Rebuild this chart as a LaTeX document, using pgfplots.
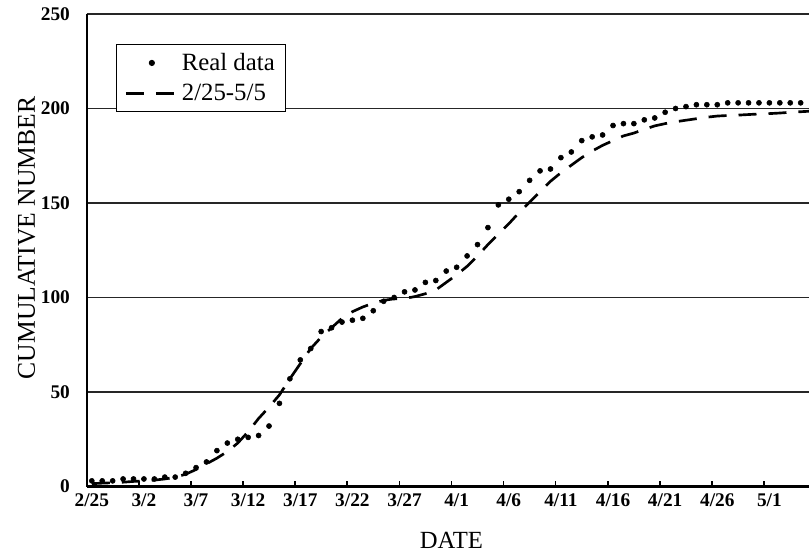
\documentclass[border=0pt]{standalone}
\usepackage{pgfplots}
\pgfplotsset{compat=1.18}
\usepackage{pgfplotstable}
\usepackage{fontspec}
\setmainfont{Liberation Serif}

\pgfplotsset{
  dotlegend/.style={legend image code/.code={\draw[##1, mark repeat=2, mark phase=2] plot coordinates {(0pt,0pt) (19.5pt,0pt) (39pt,0pt)};}},
  linelegend/.style={legend image code/.code={\draw[##1] (0pt,0pt) -- (39pt,0pt);}},
}

\pgfplotstableread{
i v
0 3
1 3
2 3
3 4
4 4
5 4
6 4
7 5
8 5
9 7
10 10
11 13
12 19
13 23
14 25
15 26
16 27
17 32
18 44
19 57
20 67
21 73
22 82
23 84
24 87
25 88
26 89
27 93
28 98
29 100
30 103
31 104
32 108
33 109
34 114
35 116
36 122
37 128
38 137
39 149
40 152
41 156
42 162
43 167
44 168
45 174
46 177
47 183
48 185
49 186
50 191
51 192
52 192
53 194
54 195
55 198
56 200
57 201
58 202
59 202
60 202
61 203
62 203
63 203
64 203
65 203
66 203
67 203
68 203
69 203
}\realdata

\pgfplotstableread{
i v
0 1.5
1 1.8
2 2.0
3 2.3
4 2.7
5 3.0
6 3.4
7 4.0
8 4.9
9 6.5
10 9
11 12
12 15
13 18.5
14 23
15 29
16 36
17 42
18 48.5
19 57
20 65
21 73
22 79
23 84
24 89
25 92.5
26 95
27 97
28 98.5
29 99.3
30 99.5
31 100.5
32 102
33 104
34 108
35 112
36 116.5
37 122
38 128
39 133.5
40 139
41 145
42 150.5
43 156
44 161.5
45 166
46 170
47 174
48 177.5
49 180.5
50 183
51 185.5
52 187
53 189
54 190.8
55 192
56 193
57 193.8
58 194.6
59 195.4
60 196
61 196.3
62 196.5
63 196.8
64 197.1
65 197.3
66 197.6
67 198
68 198.3
69 198.6
}\fitdata

\begin{document}
\begin{tikzpicture}
\begin{axis}[
  scale only axis,
  width=541.8pt, height=354.4pt,
  xmin=-0.5, xmax=68.8,
  ymin=0, ymax=250,
  axis x line=bottom, axis y line=left,
  axis line style={-, line width=1.6pt, black},
  xtick={0,5,...,65},
  xticklabels={2/25,3/2,3/7,3/12,3/17,3/22,3/27,4/1,4/6,4/11,4/16,4/21,4/26,5/1},
  minor xtick={-0.5,4.5,...,64.5},
  major tick length=0pt,
  minor tick length=4.5pt,
  tick align=inside,
  minor tick style={line width=1.2pt, black},
  ytick={0,50,...,250},
  ymajorgrids=true,
  major grid style={black!85, line width=0.9pt},
  /pgf/number format/assume math mode=true,
  ticklabel style={font=\fontsize{14.5}{16}\selectfont\bfseries},
  yticklabel style={xshift=-9pt},
  xticklabel style={yshift=-1.5pt},
  xlabel={DATE},
  ylabel={CUMULATIVE NUMBER},
  xlabel style={font=\fontsize{18.5}{20}\selectfont, at={(axis description cs:0.505,-0.115)}, anchor=center},
  ylabel style={font=\fontsize{19.2}{21}\selectfont, at={(axis description cs:-0.083,0.526)}, anchor=center},
  clip marker paths=true,
  legend style={at={(axis description cs:0.0407,0.9365)}, anchor=north west,
    draw=black, line width=0.8pt, fill=white,
    font=\fontsize{18.6}{20}\selectfont,
    inner xsep=6pt, inner ysep=4.6pt, row sep=5pt,
    cells={anchor=west}},
]
\addplot[only marks, mark=*, mark size=1.9pt, black, dotlegend]
  table[x=i, y=v] {\realdata};
\addlegendentry{Real data}
\addplot[black, line width=2pt, dash pattern=on 13.5pt off 9pt, linelegend]
  table[x=i, y=v] {\fitdata};
\addlegendentry{2/25-5/5}
\coordinate (SW) at (rel axis cs:0,0);
\coordinate (NE) at (rel axis cs:1,1);
\end{axis}
\pgfresetboundingbox
\path ([shift={(-64.95pt,-53.6pt)}]SW) rectangle ([shift={(0pt,10.5pt)}]NE);
\end{tikzpicture}
\end{document}
